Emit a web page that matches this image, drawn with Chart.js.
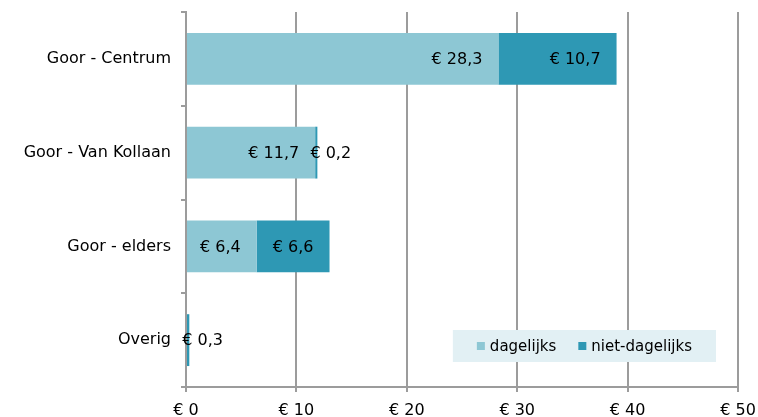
<!DOCTYPE html>
<html>
<head>
<meta charset="utf-8">
<script src="https://cdn.jsdelivr.net/npm/chart.js@4/dist/chart.umd.min.js"></script>
<style>
  html, body { margin: 0; padding: 0; background: #fff; }
  #wrap { width: 758px; height: 417px; }
</style>
</head>
<body>
<div id="wrap"><canvas id="bar_chart" width="758" height="417"></canvas></div>
<script>
var categories = ['Goor - Centrum', 'Goor - Van Kollaan', 'Goor - elders', 'Overig'];
var dagelijks = [28.3, 11.7, 6.4, null];
var nietDagelijks = [10.7, 0.2, 6.6, 0.3];
var xTicks = [0, 10, 20, 30, 40, 50];

var fontFamily = '"DejaVu Sans", Verdana, sans-serif';
var gridColor = '#9c9c9c';

function euro(v, dec) {
    return '€ ' + v.toFixed(dec).replace('.', ',');
}

// value labels inside the end of each bar, or just past it when the bar is too short
var valueLabels = {
    id: 'valueLabels',
    afterDatasetsDraw: function(chart) {
        var ctx = chart.ctx;
        ctx.save();
        ctx.font = '16px ' + fontFamily;
        ctx.fillStyle = '#000';
        ctx.textBaseline = 'middle';
        chart.data.datasets.forEach(function(ds, di) {
            var meta = chart.getDatasetMeta(di);
            meta.data.forEach(function(bar, i) {
                var v = ds.data[i];
                if (v === null || v === undefined) return;
                var txt = euro(v, 1);
                var w = ctx.measureText(txt).width;
                var len = Math.abs(bar.x - bar.base);
                if (w + 20 <= len) {
                    ctx.textAlign = 'right';
                    ctx.fillText(txt, bar.x - 16, bar.y + 1);
                } else {
                    ctx.textAlign = 'left';
                    ctx.fillText(txt, bar.x - 7, bar.y + 1);
                }
            });
        });
        ctx.restore();
    }
};

// legend box inside the plot, bottom right
var boxLegend = {
    id: 'boxLegend',
    afterDraw: function(chart) {
        var ctx = chart.ctx;
        var area = chart.chartArea;
        ctx.save();
        ctx.font = '15px ' + fontFamily;
        var pad = 24, sq = 8, gap = 5, between = 22;
        var items = chart.data.datasets.map(function(ds) {
            return { label: ds.label, color: ds.backgroundColor, w: ctx.measureText(ds.label).width };
        });
        var inner = 0;
        items.forEach(function(it, k) { inner += sq + gap + it.w + (k ? between : 0); });
        var bw = inner + pad * 2, bh = 32;
        var bx = area.right - 22 - bw, by = area.bottom - 25 - bh;
        ctx.fillStyle = '#E2F0F4';
        ctx.fillRect(bx, by, bw, bh);
        var x = bx + pad, cy = by + bh / 2;
        ctx.textBaseline = 'middle';
        ctx.textAlign = 'left';
        items.forEach(function(it) {
            ctx.fillStyle = it.color;
            ctx.fillRect(x, cy - 4, sq, sq);
            x += sq + gap;
            ctx.fillStyle = '#000';
            ctx.fillText(it.label, x, cy + 1);
            x += it.w + between;
        });
        ctx.restore();
    }
};

var config = {
    type: 'bar',
    data: {
        labels: categories,
        datasets: [
            { label: 'dagelijks', data: dagelijks, backgroundColor: '#8DC7D4' },
            { label: 'niet-dagelijks', data: nietDagelijks, backgroundColor: '#2E98B4' }
        ]
    },
    options: {
        indexAxis: 'y',
        responsive: false,
        animation: false,
        events: [],
        barPercentage: 1,
        categoryPercentage: 0.553,
        layout: { padding: { top: 12, right: 20, left: 0, bottom: 0 } },
        plugins: {
            legend: { display: false },
            tooltip: { enabled: false }
        },
        scales: {
            x: {
                stacked: true,
                min: 0,
                max: 50,
                afterBuildTicks: function(scale) {
                    scale.ticks = xTicks.map(function(v) { return { value: v }; });
                },
                afterFit: function(scale) {
                    scale.height = 30;
                    scale.paddingLeft = 0;
                    scale.paddingRight = 0;
                },
                grid: { color: gridColor, lineWidth: 2, tickLength: 5, drawTicks: true },
                border: { color: gridColor, width: 2 },
                ticks: {
                    color: '#000',
                    padding: 9,
                    font: { family: fontFamily, size: 16 },
                    callback: function(v) { return euro(v, 0); }
                }
            },
            y: {
                stacked: true,
                afterFit: function(scale) {
                    scale.width = 186;
                    scale.paddingTop = 0;
                    scale.paddingBottom = 0;
                },
                grid: { offset: true, drawOnChartArea: false, color: gridColor, lineWidth: 2, tickLength: 5 },
                border: { color: gridColor, width: 2 },
                ticks: {
                    color: '#000',
                    padding: 10,
                    font: { family: fontFamily, size: 16 }
                }
            }
        }
    },
    plugins: [valueLabels, boxLegend]
};

var chart = new Chart(document.getElementById('bar_chart').getContext('2d'), config);
</script>
</body>
</html>
